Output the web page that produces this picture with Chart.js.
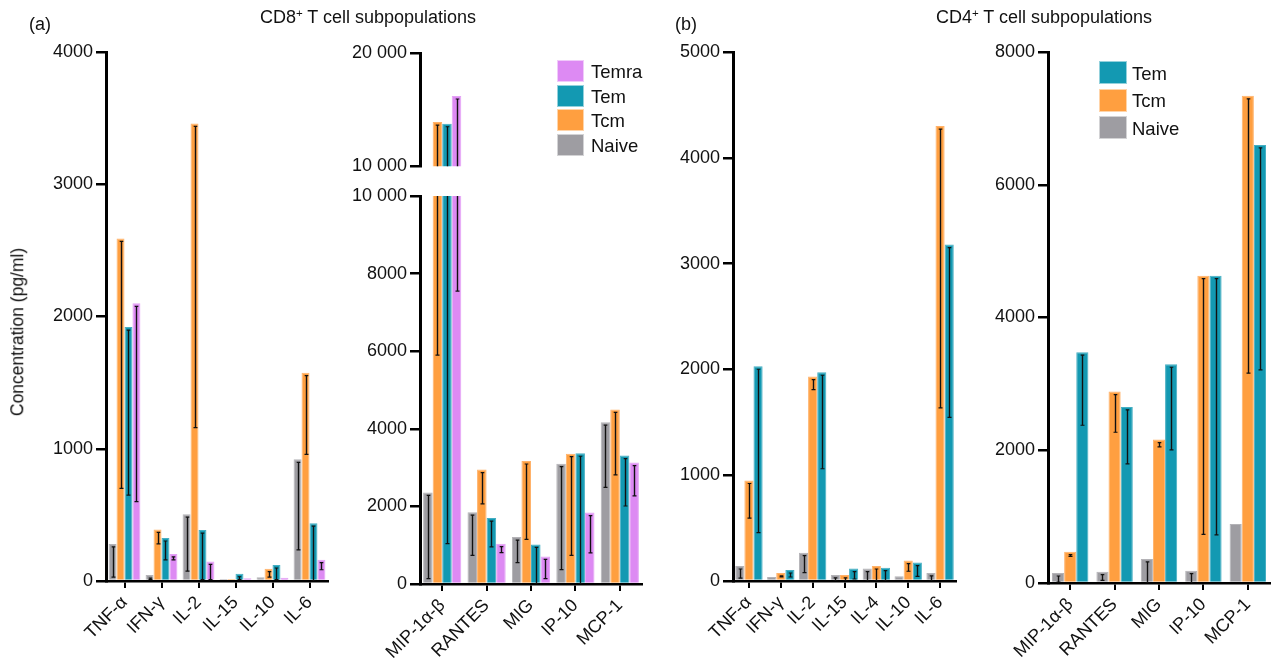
<!DOCTYPE html>
<html>
<head>
<meta charset="utf-8">
<script src="https://cdn.jsdelivr.net/npm/chart.js@4/dist/chart.umd.min.js"></script>
<style>
  html, body { margin: 0; padding: 0; background: #fff; }
  #page { position: relative; width: 1271px; height: 660px; overflow: hidden;
          font-family: "Liberation Sans", Arial, Helvetica, sans-serif; color: #111; }
  #page canvas { position: absolute; }
  .txt { position: absolute; white-space: nowrap; font-size: 18px; line-height: 1; transform: translateY(-50%); }
  .ctr { transform: translate(-50%, -50%); }
  .sup { font-size: 11.5px; position: relative; top: -6px; }
  .ytitle { position: absolute; white-space: nowrap; font-size: 17.5px; line-height: 1;
            transform: translate(-50%, -50%) rotate(-90deg); }
  .legend { position: absolute; }
  .legend .row { position: absolute; left: 0; white-space: nowrap; }
  .legend .box { position: absolute; left: 0; top: 0; box-sizing: border-box; border: 1px solid rgba(255,255,255,0.55); }
  .legend .lab { position: absolute; font-size: 18.5px; line-height: 1; transform: translateY(-50%); }
</style>
</head>
<body>
<div id="page">
  <canvas id="cd8Cyt"   width="340" height="628" style="left:0px;top:32px"></canvas>
  <canvas id="cd8ChemHi" width="334" height="147" style="left:320px;top:33px"></canvas>
  <canvas id="cd8ChemLo" width="334" height="484" style="left:320px;top:176px"></canvas>
  <canvas id="cd4Cyt"   width="298" height="628" style="left:670px;top:32px"></canvas>
  <canvas id="cd4Chem"  width="286" height="628" style="left:985px;top:32px"></canvas>

  <div class="txt" style="left:29px;top:24px">(a)</div>
  <div class="txt ctr" style="left:368px;top:17px">CD8<span class="sup">+</span> T cell subpopulations</div>
  <div class="txt" style="left:675px;top:24px">(b)</div>
  <div class="txt ctr" style="left:1044px;top:17px">CD4<span class="sup">+</span> T cell subpopulations</div>
  <div class="ytitle" style="left:18px;top:332px">Concentration (pg/ml)</div>

  <div class="legend" id="legend8" style="left:557px;top:60px"></div>
  <div class="legend" id="legend4" style="left:1099px;top:61px"></div>
</div>

<script>
// ---- categories ----
const cd8CytokineLabels = ['TNF-α', 'IFN-γ', 'IL-2', 'IL-15', 'IL-10', 'IL-6'];
const cd8ChemokineLabels = ['MIP-1α-β', 'RANTES', 'MIG', 'IP-10', 'MCP-1'];
const cd4CytokineLabels = ['TNF-α', 'IFN-γ', 'IL-2', 'IL-15', 'IL-4', 'IL-10', 'IL-6'];
const cd4ChemokineLabels = ['MIP-1α-β', 'RANTES', 'MIG', 'IP-10', 'MCP-1'];

// ---- subsets ----
const cd8Subsets = ['Naive', 'Tcm', 'Tem', 'Temra'];
const cd4Subsets = ['Naive', 'Tcm', 'Tem'];

// ---- CD8+ cytokines (pg/ml): mean and lower error bound ----
const cd8CytNaive    = [280, 45, 505, 15, 28, 920];
const cd8CytNaiveLow = [30, 10, 75, null, 10, 235];
const cd8CytTcm      = [2590, 390, 3460, 15, 93, 1575];
const cd8CytTcmLow   = [700, 280, 1160, null, 30, 957];
const cd8CytTem      = [1920, 325, 385, 55, 121, 437];
const cd8CytTemLow   = [650, 160, 10, 10, 10, 0];
const cd8CytTemra    = [2100, 205, 148, 20, 25, 161];
const cd8CytTemraLow = [600, 160, 10, null, null, 85];

// ---- CD8+ chemokines ----
const cd8ChemNaive    = [2360, 1850, 1210, 3100, 4170];
const cd8ChemNaiveLow = [140, 740, 550, 370, 2490];
const cd8ChemTcm      = [13900, 2950, 3170, 3360, 4500];
const cd8ChemTcmLow   = [5900, 2065, 1150, 740, 2810];
const cd8ChemTem      = [13750, 1700, 1020, 3370, 3310];
const cd8ChemTemLow   = [1040, 955, 0, 0, 2010];
const cd8ChemTemra    = [16200, 1040, 710, 1840, 3130];
const cd8ChemTemraLow = [7550, 810, 140, 800, 2270];

// ---- CD4+ cytokines ----
const cd4CytNaive    = [142, 38, 268, 57, 117, 44, 76];
const cd4CytNaiveLow = [28, null, 79, 0, 0, null, 0];
const cd4CytTcm      = [950, 76, 1932, 57, 142, 193, 4300];
const cd4CytTcmLow   = [594, 38, 1809, 0, 0, 92, 1636];
const cd4CytTem      = [2030, 104, 1973, 117, 126, 174, 3180];
const cd4CytTemLow   = [458, 38, 1061, 19, 0, 44, 1547];

// ---- CD4+ chemokines ----
const cd4ChemNaive    = [151, 171, 362, 186, 889];
const cd4ChemNaiveLow = [15, 40, 0, 0, 854];
const cd4ChemTcm      = [472, 2884, 2161, 4630, 7340];
const cd4ChemTcmLow   = [402, 2271, 2050, 734, 3161];
const cd4ChemTem      = [3477, 2653, 3296, 4630, 6600];
const cd4ChemTemLow   = [2377, 1794, 2005, 724, 3211];

// ---- axis ranges [min, max, step] ----
const cd8CytRange    = [0, 4000, 1000];
const cd8ChemHiRange = [10000, 20000, 10000];
const cd8ChemLoRange = [0, 10000, 2000];
const cd4CytRange    = [0, 5000, 1000];
const cd4ChemRange   = [0, 8000, 2000];

// ---- styling ----
const FONT = '"Liberation Sans", Arial, Helvetica, sans-serif';
const fill   = { Naive: '#9e9da2', Tcm: '#ff9f40', Tem: '#1399b2', Temra: '#dd8af3' };
const edge   = { Naive: '#b4b3b7', Tcm: '#ffb26a', Tem: '#45aec2', Temra: '#e4a2f5' };

function fmtTick(v) {
  return v >= 10000 ? String(v).replace(/\B(?=(\d{3})+(?!\d))/g, ' ') : String(v);
}

// Lower error bars: a thin line from the bar top down to the lower bound, capped at both ends
const errorBars = {
  id: 'errorBars',
  afterDatasetsDraw(chart) {
    const { ctx, chartArea: a } = chart;
    const y = chart.scales.y;
    ctx.save();
    ctx.beginPath();
    ctx.rect(a.left, a.top, a.right - a.left, a.bottom - a.top);
    ctx.clip();
    ctx.strokeStyle = '#111';
    chart.data.datasets.forEach((ds, i) => {
      const meta = chart.getDatasetMeta(i);
      meta.data.forEach((bar, j) => {
        const lo = ds.lows[j];
        if (lo === null || lo === undefined) return;
        const x = Math.round(bar.x) + 0.5;
        const yTop = y.getPixelForValue(ds.data[j]) + 3;
        const yLo = y.getPixelForValue(lo);
        if (yLo <= yTop) return;
        ctx.lineWidth = 1.4;
        ctx.beginPath();
        ctx.moveTo(x, yTop); ctx.lineTo(x, yLo);
        ctx.stroke();
        ctx.lineWidth = 1.2;
        ctx.beginPath();
        ctx.moveTo(x - 1.8, yTop); ctx.lineTo(x + 1.8, yTop);
        ctx.moveTo(x - 2, yLo); ctx.lineTo(x + 2, yLo);
        ctx.stroke();
      });
    });
    ctx.restore();
  }
};

function makeDatasets(subsets, values, lows) {
  return subsets.map((s, k) => ({
    label: s,
    data: values[k],
    lows: lows[k],
    backgroundColor: fill[s],
    borderColor: edge[s],
    borderWidth: 1,
    borderSkipped: 'start',
    barPercentage: 1.0,
    clip: 0
  }));
}

function makeChart(id, labels, datasets, range, opt) {
  const [yMin, yMax, yStep] = range;
  datasets.forEach(d => { d.categoryPercentage = opt.cat || 0.86; });
  return new Chart(document.getElementById(id), {
    type: 'bar',
    data: { labels, datasets },
    plugins: [errorBars],
    options: {
      responsive: false,
      animation: false,
      devicePixelRatio: 1,
      layout: { padding: { top: 20, right: opt.padRight, bottom: opt.padBottom || 0, left: 0 } },
      plugins: { legend: { display: false }, tooltip: { enabled: false } },
      scales: {
        x: {
          display: opt.showX !== false,
          offset: true,
          grid: { display: true, drawOnChartArea: false, offset: false, tickLength: 7, lineWidth: 2, color: '#000' },
          border: { display: true, width: 2.5, color: '#000' },
          ticks: { color: '#111', font: { family: FONT, size: 18 }, minRotation: 45, maxRotation: 45, padding: 4, autoSkip: false },
          afterFit(s) { s.height = opt.xHeight; }
        },
        y: {
          min: yMin, max: yMax,
          grid: { drawOnChartArea: false, tickLength: 10, lineWidth: 2.5, color: '#000' },
          border: { display: true, width: 3, color: '#000' },
          ticks: { stepSize: yStep, color: '#111', font: { family: FONT, size: 18 }, padding: 3, callback: fmtTick },
          afterFit(s) { s.width = opt.yWidth; }
        }
      }
    }
  });
}

// Panel (a): CD8+ cytokines
makeChart('cd8Cyt', cd8CytokineLabels,
  makeDatasets(cd8Subsets, [cd8CytNaive, cd8CytTcm, cd8CytTem, cd8CytTemra],
                           [cd8CytNaiveLow, cd8CytTcmLow, cd8CytTemLow, cd8CytTemraLow]),
  cd8CytRange, { yWidth: 106, xHeight: 79, padRight: 12, cat: 0.86 });

// Panel (a): CD8+ chemokines, broken y axis (upper segment)
makeChart('cd8ChemHi', cd8ChemokineLabels,
  makeDatasets(cd8Subsets, [cd8ChemNaive, cd8ChemTcm, cd8ChemTem, cd8ChemTemra],
                           [cd8ChemNaiveLow, cd8ChemTcmLow, cd8ChemTemLow, cd8ChemTemraLow]),
  cd8ChemHiRange, { yWidth: 100, xHeight: 0, padRight: 12, padBottom: 12, showX: false, cat: 0.86 });

// Panel (a): CD8+ chemokines, lower segment
makeChart('cd8ChemLo', cd8ChemokineLabels,
  makeDatasets(cd8Subsets, [cd8ChemNaive, cd8ChemTcm, cd8ChemTem, cd8ChemTemra],
                           [cd8ChemNaiveLow, cd8ChemTcmLow, cd8ChemTemLow, cd8ChemTemraLow]),
  cd8ChemLoRange, { yWidth: 100, xHeight: 76, padRight: 12, cat: 0.86 });

// Panel (b): CD4+ cytokines
makeChart('cd4Cyt', cd4CytokineLabels,
  makeDatasets(cd4Subsets, [cd4CytNaive, cd4CytTcm, cd4CytTem],
                           [cd4CytNaiveLow, cd4CytTcmLow, cd4CytTemLow]),
  cd4CytRange, { yWidth: 63, xHeight: 79, padRight: 12, cat: 0.86 });

// Panel (b): CD4+ chemokines
makeChart('cd4Chem', cd4ChemokineLabels,
  makeDatasets(cd4Subsets, [cd4ChemNaive, cd4ChemTcm, cd4ChemTem],
                           [cd4ChemNaiveLow, cd4ChemTcmLow, cd4ChemTemLow]),
  cd4ChemRange, { yWidth: 63, xHeight: 77, padRight: 1, cat: 0.82 });

// Legends (top entry = last subset)
function buildLegend(id, subsets, boxW, boxH, rowStep, textX) {
  const el = document.getElementById(id);
  subsets.slice().reverse().forEach((s, i) => {
    const row = document.createElement('div');
    row.className = 'row';
    row.style.top = (i * rowStep) + 'px';
    const box = document.createElement('div');
    box.className = 'box';
    box.style.width = boxW + 'px';
    box.style.height = boxH + 'px';
    box.style.background = fill[s];
    const lab = document.createElement('div');
    lab.className = 'lab';
    lab.style.left = textX + 'px';
    lab.style.top = (boxH / 2 + 1) + 'px';
    lab.textContent = s;
    row.appendChild(box);
    row.appendChild(lab);
    el.appendChild(row);
  });
}
buildLegend('legend8', cd8Subsets, 27, 22, 24.7, 34);
buildLegend('legend4', cd4Subsets, 28, 23, 27.5, 33);
</script>
</body>
</html>
